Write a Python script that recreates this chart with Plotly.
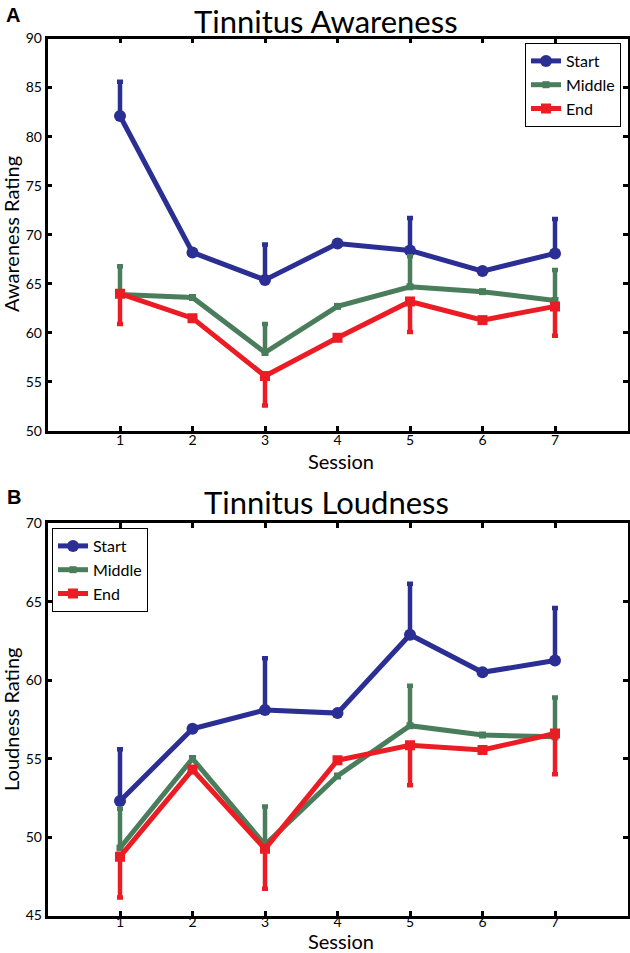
import plotly.graph_objects as go

sessions = [1, 2, 3, 4, 5, 6, 7]

# Panel A: Tinnitus Awareness
aw_start = [82.1, 68.2, 65.4, 69.1, 68.4, 66.3, 68.1]
aw_start_err = [3.5, None, 3.6, None, 3.3, None, 3.5]
aw_middle = [63.9, 63.6, 58.0, 62.7, 64.7, 64.2, 63.3]
aw_middle_err = [2.9, None, 2.9, None, 3.1, None, 3.1]
aw_end = [64.0, 61.5, 55.6, 59.5, 63.2, 61.3, 62.7]
aw_end_err = [3.1, None, 3.0, None, 3.1, None, 3.0]

# Panel B: Tinnitus Loudness
ld_start = [52.3, 56.9, 58.1, 57.9, 62.9, 60.5, 61.25]
ld_start_err = [3.3, None, 3.3, None, 3.25, None, 3.35]
ld_middle = [49.3, 55.0, 49.5, 53.9, 57.1, 56.5, 56.4]
ld_middle_err = [2.5, None, 2.45, None, 2.55, None, 2.5]
ld_end = [48.75, 54.3, 49.25, 54.9, 55.85, 55.55, 56.6]
ld_end_err = [2.6, None, 2.55, None, 2.55, None, 2.6]

series_names = ["Start", "Middle", "End"]
colors = ["#2b2f94", "#4a7d5b", "#ec1c24"]
symbols = ["circle", "square", "square"]
msizes = [12, 7, 10]

FONT = "Lato"

fig = go.Figure()


def add_panel(ys, errs, xaxis, yaxis, legend):
    for i, (y, e) in enumerate(zip(ys, errs)):
        up = i < 2
        zeros = [0] * len(e)
        err = dict(type="data", symmetric=False,
                   array=e if up else zeros,
                   arrayminus=zeros if up else e,
                   color=colors[i], thickness=4.5, width=3)
        fig.add_trace(go.Scatter(
            x=sessions, y=y, name=series_names[i], mode="lines+markers",
            line=dict(color=colors[i], width=5),
            marker=dict(color=colors[i], symbol=symbols[i], size=msizes[i]),
            error_y=err, xaxis=xaxis, yaxis=yaxis, legend=legend))


add_panel([aw_start, aw_middle, aw_end], [aw_start_err, aw_middle_err, aw_end_err], "x", "y", "legend")
add_panel([ld_start, ld_middle, ld_end], [ld_start_err, ld_middle_err, ld_end_err], "x2", "y2", "legend2")

W, H = 630, 953
xdom = [47.5 / W, 627.5 / W]
ydom1 = [1 - 431 / H, 1 - 38.5 / H]
ydom2 = [1 - 915.5 / H, 1 - 523.3 / H]

axis_common = dict(showgrid=False, zeroline=False, showline=True, linecolor="black",
                   linewidth=2.5, mirror="ticks", ticks="inside", ticklen=5, tickwidth=2.5,
                   tickcolor="black", tickfont=dict(family=FONT, size=14, color="black"),
                   automargin=False)

fig.update_layout(
    width=W, height=H, margin=dict(l=0, r=0, t=0, b=0),
    paper_bgcolor="white", plot_bgcolor="white",
    font=dict(family=FONT, color="black"),
    xaxis=dict(domain=xdom, anchor="y", range=[0, 8], tickvals=sessions, ticklabelstandoff=-6, **axis_common),
    yaxis=dict(domain=ydom1, anchor="x", range=[50, 90], tickvals=[50, 55, 60, 65, 70, 75, 80, 85, 90], **axis_common),
    xaxis2=dict(domain=xdom, anchor="y2", range=[0, 8], tickvals=sessions, ticklabelstandoff=-8, **axis_common),
    yaxis2=dict(domain=ydom2, anchor="x2", range=[45, 70], tickvals=[45, 50, 55, 60, 65, 70], **axis_common),
    legend=dict(x=621 / W, y=1 - 43 / H, xanchor="right", yanchor="top",
                bordercolor="black", borderwidth=1, bgcolor="white",
                font=dict(family=FONT, size=16), tracegroupgap=0, itemwidth=30),
    legend2=dict(x=52 / W, y=1 - 528 / H, xanchor="left", yanchor="top",
                 bordercolor="black", borderwidth=1, bgcolor="white",
                 font=dict(family=FONT, size=16), tracegroupgap=0, itemwidth=30),
    showlegend=True,
)

ann = []
ann.append(dict(text="Tinnitus Awareness", x=326 / W, y=1, xref="paper", yref="paper",
                showarrow=False, font=dict(family=FONT, size=31), xanchor="center", yanchor="top"))
ann.append(dict(text="Tinnitus Loudness", x=326 / W, y=1 - 481 / H, xref="paper", yref="paper",
                showarrow=False, font=dict(family=FONT, size=31), xanchor="center", yanchor="top"))
ann.append(dict(text="<b>A</b>", x=13 / W, y=1 - 15 / H, xref="paper", yref="paper",
                showarrow=False, font=dict(family="Liberation Sans", size=20), xanchor="center", yanchor="middle"))
ann.append(dict(text="<b>B</b>", x=14 / W, y=1 - 497 / H, xref="paper", yref="paper",
                showarrow=False, font=dict(family="Liberation Sans", size=20), xanchor="center", yanchor="middle"))
ann.append(dict(text="Session", x=341 / W, y=1 - 461 / H, xref="paper", yref="paper",
                showarrow=False, font=dict(family=FONT, size=20), xanchor="center", yanchor="middle"))
ann.append(dict(text="Session", x=341 / W, y=1 - 941 / H, xref="paper", yref="paper",
                showarrow=False, font=dict(family=FONT, size=20), xanchor="center", yanchor="middle"))
ann.append(dict(text="Awareness Rating", x=11 / W, y=1 - 234 / H, xref="paper", yref="paper",
                showarrow=False, textangle=-90, font=dict(family=FONT, size=20), xanchor="center", yanchor="middle"))
ann.append(dict(text="Loudness Rating", x=11 / W, y=1 - 720 / H, xref="paper", yref="paper",
                showarrow=False, textangle=-90, font=dict(family=FONT, size=20), xanchor="center", yanchor="middle"))
fig.update_layout(annotations=ann)

fig.write_html("out.html", config={"displayModeBar": False},
               post_script="document.body.style.margin='0';document.body.style.overflow='hidden';")
